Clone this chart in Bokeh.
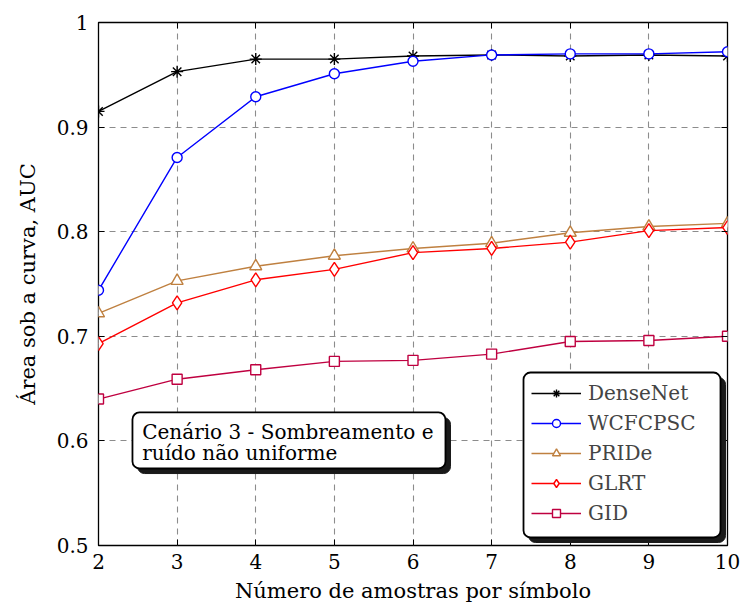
from bokeh.plotting import figure
from bokeh.models import (Range1d, FixedTicker, LinearAxis, Legend, LegendItem,
                          BoxAnnotation, Label)
from bokeh.embed import file_html
from bokeh.resources import INLINE

# ---- data ----
amostras = [2, 3, 4, 5, 6, 7, 8, 9, 10]
densenet = [0.915, 0.953, 0.965, 0.965, 0.968, 0.969, 0.968, 0.969, 0.968]
wcfcpsc = [0.744, 0.871, 0.929, 0.951, 0.963, 0.969, 0.970, 0.970, 0.972]
pride = [0.722, 0.753, 0.767, 0.777, 0.784, 0.789, 0.799, 0.805, 0.808]
glrt = [0.693, 0.732, 0.754, 0.764, 0.780, 0.784, 0.790, 0.801, 0.804]
gid = [0.640, 0.659, 0.668, 0.676, 0.677, 0.683, 0.695, 0.696, 0.700]
y_ticks = [0.5, 0.6, 0.7, 0.8, 0.9, 1.0]

FONT = "DejaVu Serif"
FS = "20px"
FS_AX = "21px"

p = figure(width=740, height=610, output_backend="svg", toolbar_location=None,
           x_range=Range1d(2, 10), y_range=Range1d(0.5, 1.0),
           min_border_left=98, min_border_right=13, min_border_top=22,
           min_border_bottom=65)
p.outline_line_color = "black"
p.outline_line_width = 1.3
p.background_fill_color = "white"

# axes
for ax in (p.xaxis[0], p.yaxis[0]):
    ax.axis_line_color = None
    ax.major_tick_in = 6
    ax.major_tick_out = 0
    ax.minor_tick_line_color = None
    ax.major_tick_line_color = "black"
    ax.major_label_text_font = FONT
    ax.major_label_text_font_size = FS
    ax.major_label_text_color = "black"
    ax.axis_label_text_font = FONT
    ax.axis_label_text_font_size = FS_AX
    ax.axis_label_text_font_style = "normal"
    ax.axis_label_text_color = "black"

p.xaxis[0].ticker = FixedTicker(ticks=amostras)
p.yaxis[0].ticker = FixedTicker(ticks=y_ticks)
p.yaxis[0].major_label_overrides = {1.0: "1", 1: "1"}
p.xaxis[0].axis_label = "Número de amostras por símbolo"
p.yaxis[0].axis_label = "Área sob a curva, AUC"
p.xaxis[0].major_label_standoff = 8
p.xaxis[0].axis_label_standoff = 7
p.yaxis[0].major_label_standoff = 10
p.yaxis[0].axis_label_standoff = 14

# mirrored ticks
for side, tick in (("right", y_ticks), ("above", amostras)):
    ax = LinearAxis(ticker=FixedTicker(ticks=tick))
    ax.axis_line_color = None
    ax.major_tick_in = 6
    ax.major_tick_out = 0
    ax.minor_tick_line_color = None
    ax.major_label_text_font_size = "0px"
    ax.major_label_standoff = 0
    p.add_layout(ax, side)

# grid
for g in (p.xgrid[0], p.ygrid[0]):
    g.grid_line_color = "#8c8c8c"
    g.grid_line_dash = "6 5"
    g.grid_line_width = 1.1
p.xgrid[0].ticker = FixedTicker(ticks=amostras)
p.ygrid[0].ticker = FixedTicker(ticks=y_ticks)

series = [
    ("DenseNet", densenet, "black", "asterisk", 12),
    ("WCFCPSC", wcfcpsc, "#0000ff", "circle", 10),
    ("PRIDe", pride, "#bf8040", "triangle", 12),
    ("GLRT", glrt, "#ff0000", "diamond", 14),
    ("GID", gid, "#bf0040", "square", 10),
]

items = []
for name, vals, col, mk, sz in series:
    lr = p.line(amostras, vals, line_color=col, line_width=1.4)
    mr = p.scatter(amostras, vals, marker=mk, size=sz, line_color=col,
                   fill_color="white", line_width=1.4)
    items.append(LegendItem(label=name, renderers=[lr, mr]))


def rounded_box(l, r, t, b, shadow=False):
    if shadow:
        return BoxAnnotation(left=l, right=r, top=t, bottom=b,
                             fill_color="#1a1a1a", fill_alpha=1,
                             line_color="#1a1a1a", line_alpha=1, border_radius=7)
    return BoxAnnotation(left=l, right=r, top=t, bottom=b,
                         fill_color="white", fill_alpha=1, line_color="black",
                         line_alpha=1, line_width=1.8, border_radius=7)


# legend box (shadow + rounded white box)
p.add_layout(rounded_box(7.469, 9.975, 0.6606, 0.50287, shadow=True))
p.add_layout(rounded_box(7.4055, 9.911, 0.66539, 0.50765))

# text box
p.add_layout(rounded_box(2.496, 6.477, 0.6224, 0.5688, shadow=True))
p.add_layout(rounded_box(2.432, 6.413, 0.6272, 0.5736))
for txt, yv in (("Cenário 3 - Sombreamento e", 0.6083), ("ruído não uniforme", 0.5880)):
    p.add_layout(Label(x=2.556, y=yv, text=txt, text_font=FONT, text_font_size=FS,
                       text_baseline="middle", text_align="left", text_color="black"))

legend = Legend(items=items, location=(433, 20), padding=10, spacing=6,
                glyph_width=50, glyph_height=20, label_height=20,
                label_standoff=7, margin=0,
                label_text_font=FONT, label_text_font_size=FS,
                border_line_color=None, background_fill_alpha=0)
p.add_layout(legend)

open("out.html", "w").write(file_html(p, INLINE))
